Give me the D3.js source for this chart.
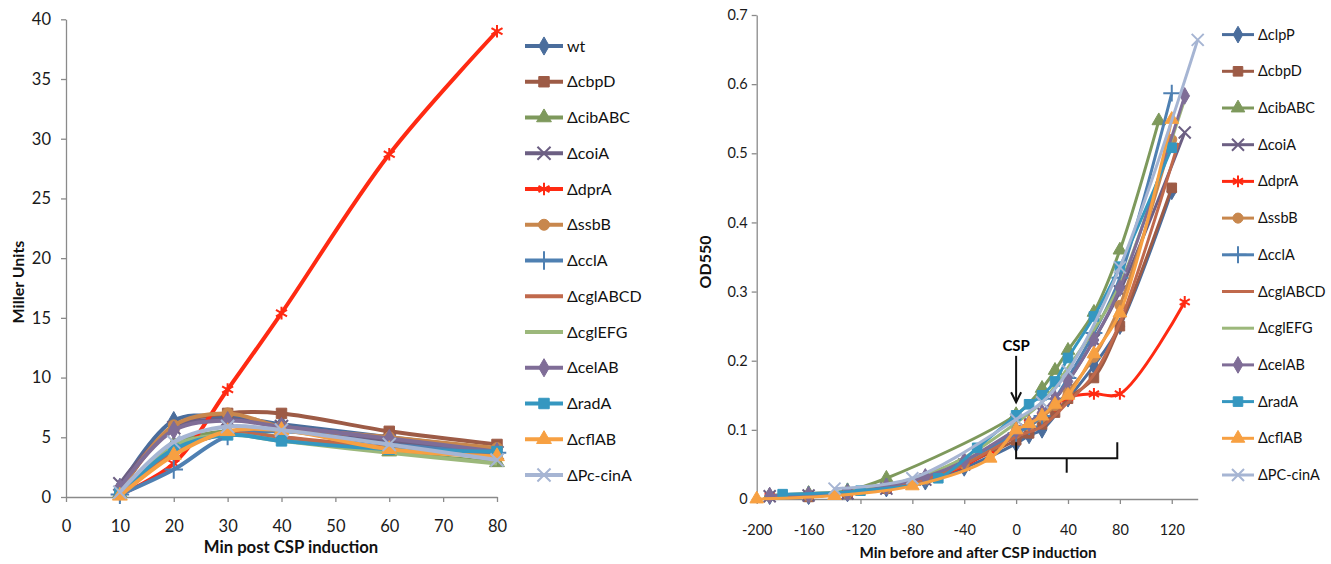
<!DOCTYPE html>
<html>
<head>
<meta charset="utf-8">
<script src="https://cdn.jsdelivr.net/npm/d3@7"></script>
<style>
  body { margin: 0; background: #ffffff; }
  svg { font-family: Lato, "Open Sans", sans-serif; }
  .axis path, .axis line { stroke: #8a8a8a; stroke-width: 1.3px; }
  .axis text { fill: #1a1a1a; font-family: Lato, "Open Sans", sans-serif; }
  .left .axis text { font-size: 16.5px; }
  .right .axis text { font-size: 14.5px; }
  .axisTitle { font-weight: bold; fill: #111; }
  .legend text { fill: #111; }
</style>
</head>
<body>
<svg id="svgRoot" width="1331" height="564"></svg>
<script>
// ---- left panel: beta-galactosidase, Miller units ----
const minPost = [10, 20, 30, 40, 60, 80]
const leftTicksX = [0, 10, 20, 30, 40, 50, 60, 70, 80]
const leftTicksY = [0, 5, 10, 15, 20, 25, 30, 35, 40]

const miller_wt       = [0.8, 6.4, 6.7, 6.1, 5.0, 4.0]
const miller_cbpD     = [0.5, 5.9, 7.0, 7.0, 5.5, 4.4]
const miller_cibABC   = [0.3, 4.4, 5.5, 5.0, 3.8, 2.9]
const miller_coiA     = [1.1, 5.8, 6.5, 5.9, 4.7, 3.7]
const miller_dprA     = [0.2, 2.8, 9.0, 15.4, 28.7, 39.0]
const miller_ssbB     = [0.5, 6.0, 7.0, 5.9, 5.0, 4.1]
const miller_cclA     = [0.2, 2.3, 5.1, 5.5, 4.4, 3.7]
const miller_cglABCD  = [0.3, 3.8, 5.3, 5.0, 4.1, 3.4]
const miller_cglEFG   = [0.2, 4.3, 5.2, 4.7, 3.7, 2.8]
const miller_celAB    = [0.8, 5.6, 6.4, 5.9, 4.9, 3.8]
const miller_radA     = [0.3, 4.0, 5.2, 4.7, 4.0, 3.8]
const miller_cflAB    = [0.1, 3.5, 5.5, 5.6, 4.0, 3.4]
const miller_PccinA   = [0.4, 4.6, 5.9, 5.6, 4.4, 3.1]

const leftNames = ["wt", "ΔcbpD", "ΔcibABC", "ΔcoiA", "ΔdprA", "ΔssbB", "ΔcclA",
  "ΔcglABCD", "ΔcglEFG", "ΔcelAB", "ΔradA", "ΔcflAB", "ΔPc-cinA"]
const leftValues = [miller_wt, miller_cbpD, miller_cibABC, miller_coiA, miller_dprA, miller_ssbB,
  miller_cclA, miller_cglABCD, miller_cglEFG, miller_celAB, miller_radA, miller_cflAB, miller_PccinA]

// ---- right panel: growth, OD550 ----
const rightTicksX = [-200, -160, -120, -80, -40, 0, 40, 80, 120]
const rightTicksY = [0, 0.1, 0.2, 0.3, 0.4, 0.5, 0.6, 0.7]

const t_clpP     = [-190, -160, -130, -100, -70, -40, 0, 10, 20, 40, 60, 80, 120]
const od_clpP    = [0.004, 0.004, 0.008, 0.015, 0.025, 0.045, 0.08, 0.092, 0.1, 0.145, 0.193, 0.25, 0.445]
const t_cbpD     = [-160, -130, -100, -70, -40, 0, 10, 20, 30, 40, 60, 80, 120]
const od_cbpD    = [0.003, 0.008, 0.015, 0.03, 0.05, 0.085, 0.095, 0.108, 0.125, 0.145, 0.175, 0.25, 0.45]
const t_cibABC   = [-190, -160, -130, -100, 0, 20, 30, 40, 60, 80, 110]
const od_cibABC  = [0.005, 0.008, 0.012, 0.03, 0.122, 0.16, 0.186, 0.215, 0.27, 0.36, 0.547]
const t_coiA     = [-190, -160, -130, -100, -70, -40, 0, 10, 20, 30, 40, 60, 80, 130]
const od_coiA    = [0.004, 0.005, 0.008, 0.015, 0.028, 0.05, 0.1, 0.11, 0.125, 0.145, 0.17, 0.23, 0.3, 0.53]
const t_dprA     = [-190, -160, -130, -100, -70, -40, -20, 0, 10, 20, 30, 40, 60, 80, 130]
const od_dprA    = [0.004, 0.005, 0.008, 0.015, 0.028, 0.048, 0.07, 0.1, 0.11, 0.12, 0.135, 0.147, 0.152, 0.152, 0.285]
const t_ssbB     = [-160, -130, -100, -70, -40, 0, 10, 20, 30, 40, 60, 80, 120]
const od_ssbB    = [0.004, 0.008, 0.015, 0.028, 0.05, 0.095, 0.105, 0.118, 0.135, 0.155, 0.205, 0.28, 0.52]
const t_cclA     = [-160, -130, -100, -70, -40, 0, 10, 20, 30, 40, 60, 80, 120]
const od_cclA    = [0.006, 0.01, 0.018, 0.03, 0.055, 0.095, 0.105, 0.12, 0.145, 0.175, 0.24, 0.32, 0.587]
const t_cglABCD  = [-160, -130, -100, -70, -40, 0, 20, 40, 60, 80, 125]
const od_cglABCD = [0.004, 0.008, 0.015, 0.028, 0.05, 0.09, 0.105, 0.14, 0.18, 0.255, 0.515]
const t_cglEFG   = [-190, -160, -130, -100, -70, -40, 0, 20, 40, 60, 80, 130]
const od_cglEFG  = [0.005, 0.007, 0.01, 0.02, 0.035, 0.06, 0.11, 0.14, 0.19, 0.245, 0.31, 0.578]
const t_celAB    = [-190, -160, -130, -100, -70, -40, 0, 10, 20, 30, 40, 60, 80, 130]
const od_celAB   = [0.005, 0.006, 0.009, 0.018, 0.032, 0.055, 0.1, 0.11, 0.125, 0.145, 0.17, 0.23, 0.305, 0.583]
const t_radA     = [-180, -120, -60, -30, 0, 10, 20, 30, 40, 60, 80, 120]
const od_radA    = [0.007, 0.012, 0.03, 0.074, 0.121, 0.137, 0.15, 0.17, 0.204, 0.264, 0.336, 0.508]
const t_cflAB    = [-200, -140, -80, -20, 0, 10, 20, 30, 40, 60, 80, 120]
const od_cflAB   = [0, 0.005, 0.019, 0.059, 0.1, 0.109, 0.12, 0.137, 0.15, 0.21, 0.269, 0.549]
const t_PCcinA   = [-140, -80, 0, 20, 40, 80, 140]
const od_PCcinA  = [0.015, 0.03, 0.115, 0.14, 0.185, 0.335, 0.664]

const rightNames = ["ΔclpP", "ΔcbpD", "ΔcibABC", "ΔcoiA", "ΔdprA", "ΔssbB", "ΔcclA",
  "ΔcglABCD", "ΔcglEFG", "ΔcelAB", "ΔradA", "ΔcflAB", "ΔPC-cinA"]
const rightTimes = [t_clpP, t_cbpD, t_cibABC, t_coiA, t_dprA, t_ssbB, t_cclA,
  t_cglABCD, t_cglEFG, t_celAB, t_radA, t_cflAB, t_PCcinA]
const rightValues = [od_clpP, od_cbpD, od_cibABC, od_coiA, od_dprA, od_ssbB, od_cclA,
  od_cglABCD, od_cglEFG, od_celAB, od_radA, od_cflAB, od_PCcinA]

// styles shared by both panels (same series order)
const colors = ["#4a6d9c", "#9d5b46", "#7e995c", "#6c5f83", "#ff2a12", "#c8874d", "#4f80b2",
  "#c0694c", "#9cb87b", "#7f6d97", "#3597c0", "#f7a042", "#a6b5d3"]
const markers = ["diamond", "square", "triangle", "x", "star", "circle", "plus",
  "none", "none", "diamond", "square", "triangle", "x"]

let svg = d3.select("#svgRoot")

function symbolType(kind) {
  if (kind == "diamond") return d3.symbolDiamond
  if (kind == "square") return d3.symbolSquare
  if (kind == "triangle") return d3.symbolTriangle
  if (kind == "circle") return d3.symbolCircle
  if (kind == "x") return d3.symbolTimes
  if (kind == "plus") return d3.symbolPlus
  return d3.symbolAsterisk
}

function drawMarker(g, kind, color, x, y, size) {
  if (kind == "none") return
  let stroked = (kind == "x" || kind == "plus" || kind == "star")
  let s = size
  if (kind == "square") s = size * 1.15
  if (stroked) s = size * 1.2
  let p = g.append("path")
    .attr("d", d3.symbol().type(symbolType(kind)).size(s)())
    .attr("transform", `translate(${x},${y})`)
  if (stroked) {
    p.attr("fill", "none").attr("stroke", color).attr("stroke-width", 2)
  } else {
    p.attr("fill", color).attr("stroke", color).attr("stroke-width", 1)
  }
}

function drawLegend(names, x0, x1, y0, step, lineW, mSize, fontSize) {
  let g = svg.append("g").attr("class", "legend")
  names.forEach((name, i) => {
    let y = y0 + i * step
    g.append("line")
      .attr("x1", x0).attr("x2", x1).attr("y1", y).attr("y2", y)
      .attr("stroke", colors[i]).attr("stroke-width", lineW)
    drawMarker(g, markers[i], colors[i], (x0 + x1) / 2, y, mSize)
    g.append("text").attr("x", x1 + 4).attr("y", y).attr("dy", "0.35em")
      .attr("font-size", fontSize).text(name)
  })
}

function drawLeft() {
  let root = svg.append("g").attr("class", "left")
  let x = d3.scaleLinear().domain([0, 80]).range([66, 497])
  let y = d3.scaleLinear().domain([0, 40]).range([497, 19.3])

  root.append("g").attr("class", "axis")
    .attr("transform", "translate(0," + y(0) + ")")
    .call(d3.axisBottom(x).tickValues(leftTicksX).tickSize(5).tickSizeOuter(0).tickPadding(18))
  root.append("g").attr("class", "axis")
    .attr("transform", "translate(" + x(0) + ",0)")
    .call(d3.axisLeft(y).tickValues(leftTicksY).tickSize(5).tickSizeOuter(0).tickPadding(10))

  let line = d3.line()
    .x((d) => x(d[0]))
    .y((d) => y(d[1]))
    .curve(d3.curveCatmullRom.alpha(0.5))

  let g = root.append("g")
  leftValues.forEach((vals, i) => {
    let pts = vals.map((v, j) => [minPost[j], v])
    g.append("path").attr("d", line(pts))
      .attr("fill", "none").attr("stroke", colors[i]).attr("stroke-width", 4)
      .attr("stroke-linejoin", "round")
    pts.forEach((p) => drawMarker(g, markers[i], colors[i], x(p[0]), y(p[1]), 95))
  })

  root.append("text").attr("class", "axisTitle")
    .attr("text-anchor", "middle").attr("font-size", "16.7px")
    .attr("transform", "translate(291,553)")
    .text("Min post CSP induction")
  root.append("text").attr("class", "axisTitle")
    .attr("text-anchor", "middle").attr("font-size", "16px")
    .attr("transform", "translate(24,282) rotate(-90)")
    .text("Miller Units")

  drawLegend(leftNames, 525, 563, 46, 35.75, 4, 95, "16px")
}

function drawRight() {
  let root = svg.append("g").attr("class", "right")
  let x = d3.scaleLinear().domain([-200, 140]).range([756.7, 1197.7])
  let y = d3.scaleLinear().domain([0, 0.7]).range([499, 15])

  root.append("g").attr("class", "axis")
    .attr("transform", "translate(0," + y(0) + ")")
    .call(d3.axisBottom(x).tickValues(rightTicksX).tickSize(5).tickSizeOuter(0).tickPadding(21)
      .tickFormat((d) => String(d)))
  root.append("g").attr("class", "axis")
    .attr("transform", "translate(" + x(-200) + ",0)")
    .call(d3.axisLeft(y).tickValues(rightTicksY).tickSize(5).tickSizeOuter(0).tickPadding(4)
      .tickFormat((d) => d == 0 ? "0" : d3.format(".1f")(d)))

  let line = d3.line()
    .x((d) => x(d[0]))
    .y((d) => y(d[1]))
    .curve(d3.curveCatmullRom.alpha(0.5))

  let g = root.append("g")
  rightValues.forEach((vals, i) => {
    let pts = vals.map((v, j) => [rightTimes[i][j], v])
    g.append("path").attr("d", line(pts))
      .attr("fill", "none").attr("stroke", colors[i]).attr("stroke-width", 3)
      .attr("stroke-linejoin", "round")
    pts.forEach((p) => drawMarker(g, markers[i], colors[i], x(p[0]), y(p[1]), 80))
  })

  // CSP arrow and bracket
  let a = root.append("g").attr("stroke", "#111").attr("stroke-width", 2).attr("fill", "none")
  a.append("line").attr("x1", x(0)).attr("x2", x(0)).attr("y1", y(0.207)).attr("y2", y(0.14))
  a.append("path").attr("d", `M${x(0) - 5},${y(0.14) - 10} L${x(0)},${y(0.14)} L${x(0) + 5},${y(0.14) - 10}`)
  a.append("path").attr("d",
    `M${x(0)},${y(0.082)} L${x(0)},${y(0.059)} L${x(78)},${y(0.059)} L${x(78)},${y(0.082)}`)
  a.append("line").attr("x1", x(39)).attr("x2", x(39)).attr("y1", y(0.059)).attr("y2", y(0.038))
  root.append("text").attr("x", x(0)).attr("y", y(0.214))
    .attr("text-anchor", "middle").attr("font-weight", "bold").attr("font-size", "15px")
    .text("CSP")

  root.append("text").attr("class", "axisTitle")
    .attr("text-anchor", "middle").attr("font-size", "15.2px")
    .attr("transform", "translate(978,558)")
    .text("Min  before and after CSP induction")
  root.append("text").attr("class", "axisTitle")
    .attr("text-anchor", "middle").attr("font-size", "16px")
    .attr("transform", "translate(711,262) rotate(-90)")
    .text("OD550")

  drawLegend(rightNames, 1222, 1254, 34.6, 36.7, 3, 80, "14.5px")
}

drawLeft()
drawRight()
</script>
</body>
</html>
